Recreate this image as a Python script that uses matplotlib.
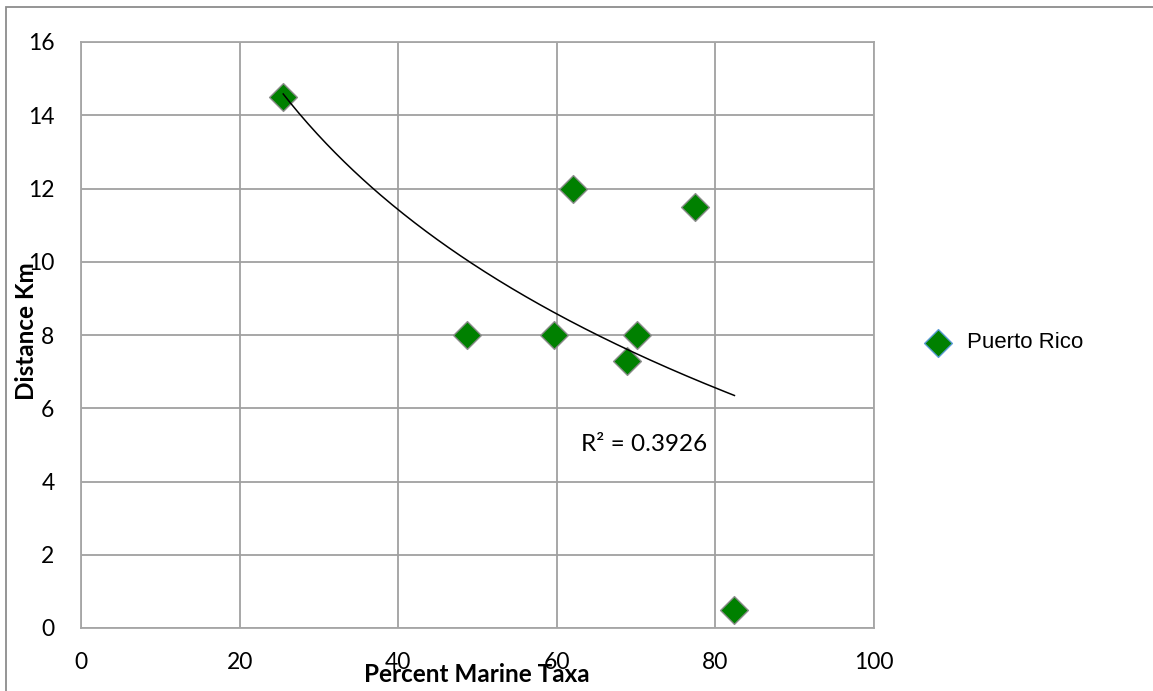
import numpy as np
import matplotlib
matplotlib.use("Agg")
import matplotlib.pyplot as plt
from matplotlib.patches import Rectangle

# Percent of marine taxa vs. distance from the coast, Puerto Rico sites
pct_marine = [25.5, 48.7, 59.7, 62.0, 68.9, 70.1, 77.4, 82.4]
distance_km = [14.5, 8.0, 8.0, 12.0, 7.3, 8.0, 11.5, 0.5]
series_name = "Puerto Rico"
r2_label = "R\u00b2 = 0.3926"
x_ticks = [0, 20, 40, 60, 80, 100]
y_ticks = [0, 2, 4, 6, 8, 10, 12, 14, 16]

W, H = 1153, 691
fig = plt.figure(figsize=(W / 100, H / 100), dpi=100)

# outer chart border
fig.patches.append(Rectangle((6 / W, -0.1), 1.2, 1 - 7 / H + 0.1, transform=fig.transFigure,
                             fill=False, edgecolor="#8c8c8c", linewidth=1.3))

ax = fig.add_axes([81 / W, 1 - 628 / H, (874 - 81) / W, (628 - 42) / H])
ax.set_xlim(0, 100)
ax.set_ylim(0, 16)
ax.set_xticks(x_ticks)
ax.set_yticks(y_ticks)
ax.grid(True, color="#a0a0a0", linewidth=1.3)
ax.set_axisbelow(True)
for s in ax.spines.values():
    s.set_color("#a6a6a6")
    s.set_linewidth(1.3)
ax.tick_params(length=0, labelsize=16.5)
for lab in ax.get_xticklabels() + ax.get_yticklabels():
    lab.set_fontfamily("Lato")
ax.tick_params(axis="x", pad=17)
ax.tick_params(axis="y", pad=19)

ax.scatter(pct_marine, distance_km, marker="D", s=200, color="#008000",
           edgecolors="#8c8c8c", linewidths=1.0, zorder=3, label=series_name)

# logarithmic trendline fitted to the points
lx = np.log(pct_marine)
b, a = np.polyfit(lx, distance_km, 1)
xs = np.linspace(min(pct_marine), max(pct_marine), 200)
ax.plot(xs, a + b * np.log(xs), color="black", linewidth=1.1, zorder=4)

ax.text(63.1, 5.0, r2_label, fontsize=17.5, fontfamily="Lato", ha="left", va="center")

fig.text(477 / W, 1 - 675 / H, "Percent Marine Taxa", fontsize=17.5, fontweight="bold",
         fontfamily="Lato", ha="center", va="center")
fig.text(26 / W, 1 - 331 / H, "Distance Km", fontsize=17.5, fontweight="bold",
         fontfamily="Lato", ha="center", va="center", rotation=90)

leg = fig.legend(handles=[ax.collections[0]], labels=[series_name],
                 loc="center left", bbox_to_anchor=(896 / W, 1 - 343 / H),
                 frameon=False, prop={"family": "Liberation Sans", "size": 16},
                 handletextpad=0.3, markerscale=1.0)
leg.legend_handles[0].set_edgecolor("#5b9bd5")

fig.savefig("out.png", dpi=100)
